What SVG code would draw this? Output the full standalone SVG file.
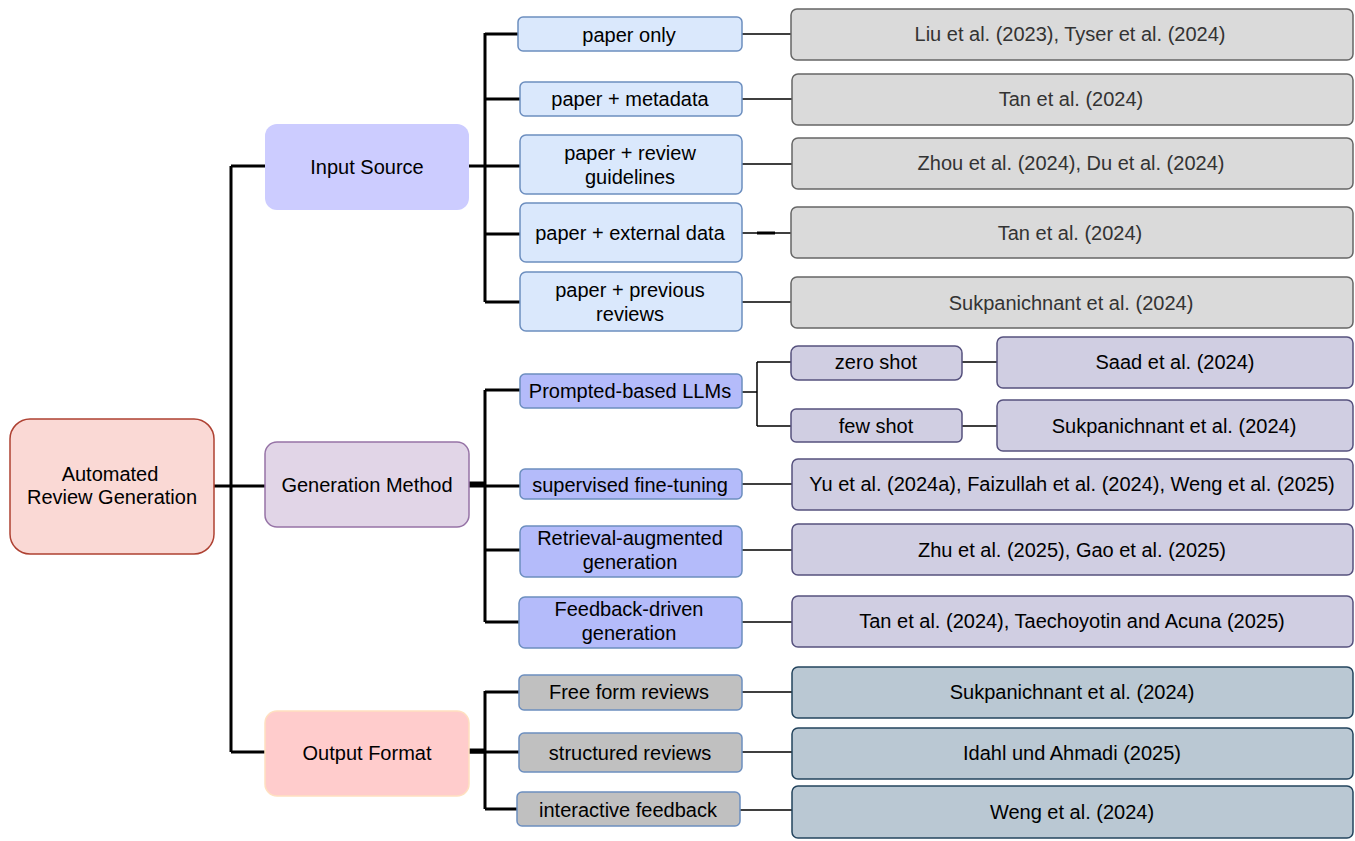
<svg xmlns="http://www.w3.org/2000/svg" width="1355" height="841" viewBox="0 0 1355 841">
<style>
text{font-family:"Liberation Sans",Arial,Helvetica,sans-serif;font-size:20px;fill:#000;text-anchor:middle;dominant-baseline:central}
.lt text{fill:#333}
.thick{fill:none;stroke:#000;stroke-width:3}
.thin{fill:none;stroke:#000;stroke-width:1.5}
.ch{fill:#dae8fc;stroke:#6c8ebf;stroke-width:1.5}
.gl{fill:#dadada;stroke:#666;stroke-width:1.5}
.gm{fill:#b4bbfa;stroke:#6c8ebf;stroke-width:1.5}
.pl{fill:#d0cee2;stroke:#56517e;stroke-width:1.5}
.oc{fill:#c0c0c0;stroke:#6c8ebf;stroke-width:1.5}
.ol{fill:#bac8d3;stroke:#23445d;stroke-width:1.5}
</style>
<g id="connectors">
<path class="thick" d="M214 486H231M231 166V752M231 166H265M231 486H265M231 752H265"/>
<path class="thick" d="M469 166H485M485 33V302M485 34H518M485 99H520M485 166H520M485 234H520M485 302H520"/>
<path class="thin" d="M742 34H791M742 99H792M742 164H792M742 233H791M742 302H791"/>
<path class="thick" d="M757 233H775"/>
<path class="thick" d="M469 486H485M485 390V622M485 390H520M485 486H520M485 550H520M485 622H519"/>
<path class="thick" d="M469 484H485" style="stroke-width:5"/>
<path class="thin" d="M742 392H757M757 362V426M757 362H791M757 426H791M962 362H997M962 426H997M742 484H792M742 550H792M742 622H792"/>
<path class="thick" d="M469 752H485M485 691V809M485 692H519M485 752H519M485 809H517"/>
<path class="thick" d="M469 751H485" style="stroke-width:5"/>
<path class="thin" d="M742 692H792M742 752H792M740 810H792"/>
</g>
<g id="root"><rect x="10" y="419" width="204" height="135" rx="20" fill="#fad9d5" stroke="#ae4132" stroke-width="1.5"/><text x="110" y="474">Automated</text><text x="112" y="497">Review Generation</text></g>
<g id="input-source"><rect x="265" y="124" width="204" height="86" rx="12" fill="#ccccff"/><text x="367" y="167">Input Source</text></g>
<g id="generation-method"><rect x="265" y="442" width="204" height="85" rx="12" fill="#e1d5e7" stroke="#9673a6" stroke-width="1.5"/><text x="367" y="485">Generation Method</text></g>
<g id="output-format"><rect x="265" y="711" width="204" height="85" rx="12" fill="#ffcccc" stroke="#ffe0c0" stroke-width="1.5"/><text x="367" y="753">Output Format</text></g>

<g id="paper-only"><rect class="ch" x="518" y="17" width="224" height="34" rx="5"/><text x="629" y="35">paper only</text></g>
<g id="paper-metadata"><rect class="ch" x="520" y="82" width="222" height="34" rx="5"/><text x="630" y="99">paper + metadata</text></g>
<g id="paper-guidelines"><rect class="ch" x="520" y="135" width="222" height="59" rx="6"/><text x="630" y="153">paper + review</text><text x="630" y="177">guidelines</text></g>
<g id="paper-external"><rect class="ch" x="520" y="203" width="222" height="59" rx="6"/><text x="630" y="233">paper + external data</text></g>
<g id="paper-previous"><rect class="ch" x="520" y="272" width="222" height="59" rx="6"/><text x="630" y="290">paper + previous</text><text x="630" y="314">reviews</text></g>

<g class="lt">
<g id="leaf-liu"><rect class="gl" x="791" y="9" width="562" height="51" rx="6"/><text x="1070" y="34">Liu et al. (2023), Tyser et al. (2024)</text></g>
<g id="leaf-tan1"><rect class="gl" x="792" y="74" width="561" height="51" rx="6"/><text x="1071" y="99">Tan et al. (2024)</text></g>
<g id="leaf-zhou"><rect class="gl" x="792" y="138" width="561" height="51" rx="6"/><text x="1071" y="163">Zhou et al. (2024), Du et al. (2024)</text></g>
<g id="leaf-tan2"><rect class="gl" x="791" y="207" width="562" height="51" rx="6"/><text x="1070" y="233">Tan et al. (2024)</text></g>
<g id="leaf-sukp1"><rect class="gl" x="791" y="277" width="562" height="51" rx="6"/><text x="1071" y="303">Sukpanichnant et al. (2024)</text></g>
</g>

<g id="prompted"><rect class="gm" x="520" y="374" width="222" height="34" rx="5"/><text x="630" y="391">Prompted-based LLMs</text></g>
<g id="sft"><rect class="gm" x="520" y="469" width="222" height="30" rx="5"/><text x="630" y="485">supervised fine-tuning</text></g>
<g id="rag"><rect class="gm" x="520" y="526" width="222" height="51" rx="6"/><text x="630" y="538">Retrieval-augmented</text><text x="630" y="562">generation</text></g>
<g id="feedback"><rect class="gm" x="519" y="597" width="223" height="51" rx="6"/><text x="629" y="609">Feedback-driven</text><text x="629" y="633">generation</text></g>

<g id="zero-shot"><rect class="pl" x="791" y="346" width="171" height="34" rx="7"/><text x="876" y="362">zero shot</text></g>
<g id="few-shot"><rect class="pl" x="791" y="409" width="171" height="33" rx="5"/><text x="876" y="426">few shot</text></g>
<g id="leaf-saad"><rect class="pl" x="997" y="337" width="356" height="51" rx="6"/><text x="1175" y="362">Saad et al. (2024)</text></g>
<g id="leaf-sukp2"><rect class="pl" x="997" y="400" width="356" height="51" rx="6"/><text x="1174" y="426">Sukpanichnant et al. (2024)</text></g>
<g id="leaf-yu"><rect class="pl" x="792" y="459" width="561" height="51" rx="6"/><text x="1072" y="484">Yu et al. (2024a), Faizullah et al. (2024), Weng et al. (2025)</text></g>
<g id="leaf-zhu"><rect class="pl" x="792" y="524" width="561" height="51" rx="6"/><text x="1072" y="550">Zhu et al. (2025), Gao et al. (2025)</text></g>
<g id="leaf-tan3"><rect class="pl" x="792" y="596" width="561" height="51" rx="6"/><text x="1072" y="621">Tan et al. (2024), Taechoyotin and Acuna (2025)</text></g>

<g id="free-form"><rect class="oc" x="519" y="675" width="223" height="35" rx="5"/><text x="629" y="692">Free form reviews</text></g>
<g id="structured"><rect class="oc" x="519" y="733" width="223" height="39" rx="5"/><text x="630" y="753">structured reviews</text></g>
<g id="interactive"><rect class="oc" x="517" y="792" width="223" height="34" rx="5"/><text x="628" y="810">interactive feedback</text></g>
<g id="leaf-sukp3"><rect class="ol" x="792" y="667" width="561" height="51" rx="6"/><text x="1072" y="692">Sukpanichnant et al. (2024)</text></g>
<g id="leaf-idahl"><rect class="ol" x="792" y="728" width="561" height="51" rx="6"/><text x="1072" y="753">Idahl und Ahmadi (2025)</text></g>
<g id="leaf-weng"><rect class="ol" x="792" y="786" width="561" height="52" rx="6"/><text x="1072" y="812">Weng et al. (2024)</text></g>
</svg>
